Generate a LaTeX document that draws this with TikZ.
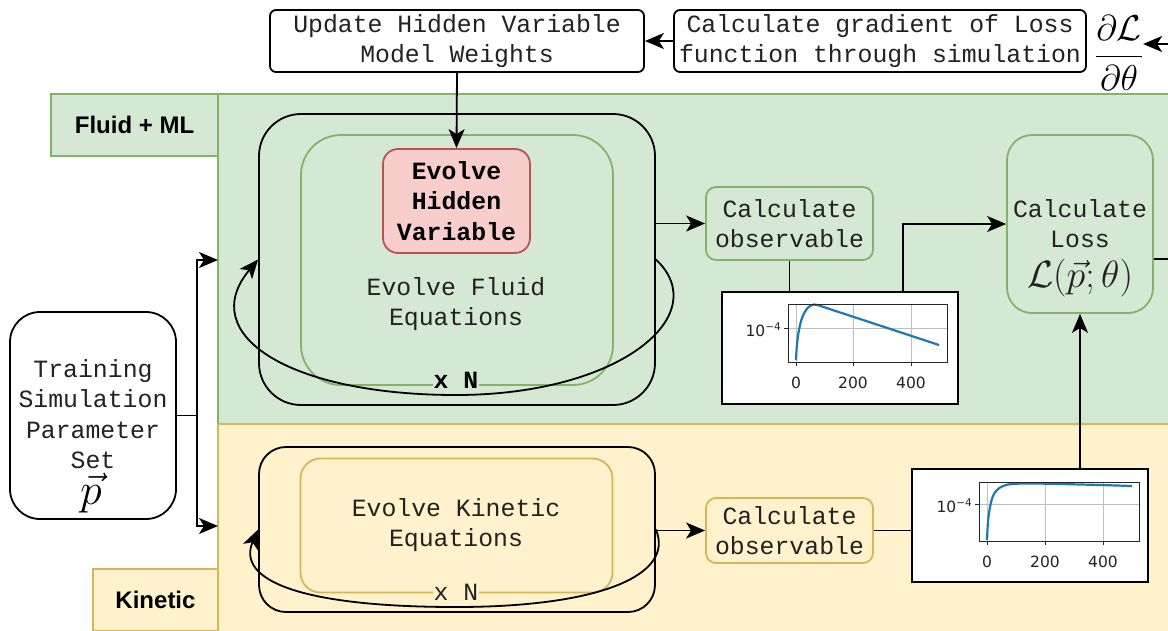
\RequirePackage{fix-cm}
\documentclass[tikz,border=0pt]{standalone}
\usepackage{fontspec}
\usetikzlibrary{arrows.meta,calc}
\newfontfamily\monof{Liberation Mono}
\newfontfamily\sansf{Liberation Sans}
\newfontfamily\plotf{DejaVu Sans}
\definecolor{gfill}{HTML}{D5E8D4}
\definecolor{gline}{HTML}{82B366}
\definecolor{yfill}{HTML}{FFF2CC}
\definecolor{yline}{HTML}{D6B656}
\definecolor{rfill}{HTML}{F8CECC}
\definecolor{rline}{HTML}{B85450}
\definecolor{plotblue}{HTML}{1F77B4}
\definecolor{txt}{HTML}{222222}
\tikzset{
  mono/.style={font=\monof\fontsize{24.8}{30.5}\selectfont, align=center, text=txt, inner sep=0pt},
  monob/.style={font=\monof\bfseries\fontsize{24.8}{30.5}\selectfont, align=center, text=black, inner sep=0pt},
  bx/.style={draw=black, line width=1.8pt, rounded corners=#1, fill=white, inner sep=0pt},
  gbx/.style={draw=gline, line width=1.8pt, rounded corners=#1, fill=gfill, inner sep=0pt},
  ybx/.style={draw=yline, line width=1.8pt, rounded corners=#1, fill=yfill, inner sep=0pt},
  lab/.style={font=\sansf\bfseries\fontsize{24}{28}\selectfont, line width=1.5pt, inner sep=0pt},
  arr/.style={-{Stealth[length=19pt,width=16pt,inset=5pt]}, line width=1.8pt},
  conn/.style={line width=1.8pt},
  tick/.style={font=\plotf\fontsize{15.5}{18}\selectfont, text=txt, inner sep=0pt},
  axesbox/.style={draw=black!85, line width=1pt},
  gridl/.style={draw=black!25, line width=0.9pt},
  curve/.style={draw=plotblue, line width=2.2pt, line join=round},
  bigmath/.style={font=\fontsize{36}{40}\selectfont, inner sep=0pt}
}
\begin{document}
\begin{tikzpicture}[x=1pt,y=-1pt]
\useasboundingbox (0,0) rectangle (1168,630);
% regions
\path[draw=gline, fill=gfill, line width=1.5pt] (218,94) rectangle (1190,424);
\path[draw=yline, fill=yfill, line width=1.5pt] (218,424) rectangle (1190,650);
\node[lab, fill=gfill, draw=gline, minimum width=167pt, minimum height=62pt] (flab) at (134.5,125) {Fluid + ML};
\node[lab, fill=yfill, draw=yline, minimum width=125pt, minimum height=62pt] (klab) at (155.5,600) {Kinetic};

% top boxes
\node[bx=6pt, minimum width=374pt, minimum height=62pt] (upd) at (457,41) {};
\node[mono] at (457,41) {Update Hidden Variable\\Model Weights};
\node[bx=6pt, minimum width=412pt, minimum height=62pt] (grad) at (880,41) {};
\node[mono] at (880,41) {Calculate gradient of Loss\\function through simulation};
\node[bigmath] (frac) at (1119,53) {$\displaystyle\frac{\partial\mathcal{L}}{\partial\theta}$};
\coordinate (gin) at (1180,44);

% fluid
\node[bx=42pt, fill=none, minimum width=396pt, minimum height=291pt] (fouter) at (457,259.5) {};
\node[gbx=40pt, minimum width=312pt, minimum height=250pt] (finner) at (457,260) {};
\node[mono] (ftxt) at (456,304) {Evolve Fluid\\Equations};
\node[draw=rline, fill=rfill, line width=1.8pt, rounded corners=15pt, minimum width=147pt, minimum height=104pt, inner sep=0pt] (hid) at (456.5,201) {};
\node[monob] at (456.5,201) {Evolve\\Hidden\\Variable};
\node[gbx=10pt, minimum width=167pt, minimum height=73pt] (fobs) at (789.5,223.5) {};
\node[mono] at (789.5,223.5) {Calculate\\observable};
\node[bx=0pt, minimum width=236pt, minimum height=112pt] (plot1) at (840,348) {};
\node[gbx=25pt, minimum width=146pt, minimum height=178pt] (loss) at (1080,224) {};
\node[mono] (losstxt) at (1080,248) {Calculate\\Loss\\[9pt]{\fontsize{38}{40}\selectfont$\mathcal{L}(\vec{p};\theta)$}};
\coordinate (lout) at (1180,259);

% training
\node[bx=30pt, minimum width=166pt, minimum height=207pt] (train) at (93,415.5) {};
\node[mono] (traintxt) at (93,414) {Training\\Simulation\\Parameter\\Set};
\node[bigmath, font=\fontsize{44}{48}\selectfont] (pvec) at (91,493) {$\vec{p}$};
\coordinate (br) at (197,415.5);
\coordinate (fin) at (218,260);
\coordinate (kin) at (218,526);

% kinetic
\node[bx=27pt, fill=none, minimum width=396pt, minimum height=165pt] (kouter) at (457,529.5) {};
\node[ybx=20pt, minimum width=312pt, minimum height=134pt] (kinner) at (456.5,525.5) {};
\node[mono] at (456,525) {Evolve Kinetic\\Equations};
\node[ybx=10pt, minimum width=167pt, minimum height=65pt] (kobs) at (789.5,530.5) {};
\node[mono] at (789.5,530.5) {Calculate\\observable};
\node[bx=0pt, minimum width=236pt, minimum height=113pt] (plot2) at (1030,525.5) {};

% plot 1 contents
\draw[gridl] (796,304) -- (796,362) (853,304) -- (853,362) (911,304) -- (911,362) (788,328) -- (947,328);
\draw[curve] plot[smooth, tension=0.6] coordinates {(796,360) (797,344) (799,330) (802,318) (806,310) (810,306) (814,304.5) (819,305.5)} -- (939,345);
\draw[axesbox] (788,304) rectangle (947,362);
\draw[axesbox] (796,362) -- (796,366) (853,362) -- (853,366) (911,362) -- (911,366) (788,328) -- (784,328);
\node[tick] at (796,383) {0};
\node[tick] at (853,383) {200};
\node[tick] at (911,383) {400};
\node[tick, anchor=east] at (781,330) {10\raisebox{6pt}{\fontsize{10.5}{10}\selectfont −4}};

% plot 2 contents
\draw[gridl] (987,482) -- (987,541) (1045,482) -- (1045,541) (1103,482) -- (1103,541) (979,504) -- (1139,504);
\draw[curve] plot[smooth, tension=0.6] coordinates {(987,540) (988,522) (990,507) (993,496) (997,490) (1003,486) (1012,484) (1030,483.5) (1060,484) (1100,485) (1132,486)};
\draw[axesbox] (979,482) rectangle (1139,541);
\draw[axesbox] (987,541) -- (987,545) (1045,541) -- (1045,545) (1103,541) -- (1103,545) (979,504) -- (975,504);
\node[tick] at (987,562) {0};
\node[tick] at (1045,562) {200};
\node[tick] at (1103,562) {400};
\node[tick, anchor=east] at (972,506) {10\raisebox{6pt}{\fontsize{10.5}{10}\selectfont −4}};

% connectors
\draw[arr] (gin) -- (gin -| frac.east);
\draw[arr] (grad.west) -- (upd.east);
\draw[arr] (upd.south) -- (hid.north);
\draw[conn] (train.east |- br) -- (br);
\draw[arr] (br) |- (fin);
\draw[arr] (br) |- (kin);
\draw[arr] (fobs.west -| fouter.east) -- (fobs.west);
\draw[conn] (fobs.south) -- (fobs.south |- plot1.north);
\draw[arr] ([xshift=63pt]plot1.north) |- (loss.west);
\draw[conn] (loss.east |- lout) -- (lout);
\draw[arr] (loss.south |- plot2.north) -- (loss.south);
\draw[arr] (kobs.west -| kouter.east) -- (kobs.west);
\draw[conn] (kobs.east) -- (kobs.east -| plot2.west);

% loops
\draw[arr] (fouter.east) .. controls (715,315) and (620,395) .. (456,395) .. controls (290,395) and (195,335) .. (fouter.west);
\node[monob, fill=gfill, inner sep=1pt] at (456,380) {x N};
\draw[arr] (kouter.east) .. controls (675,575) and (600,607) .. (456,607) .. controls (300,607) and (236,580) .. (kouter.west);
\node[mono, fill=yfill, inner sep=1pt] at (456,592) {x N};
\end{tikzpicture}
\end{document}
